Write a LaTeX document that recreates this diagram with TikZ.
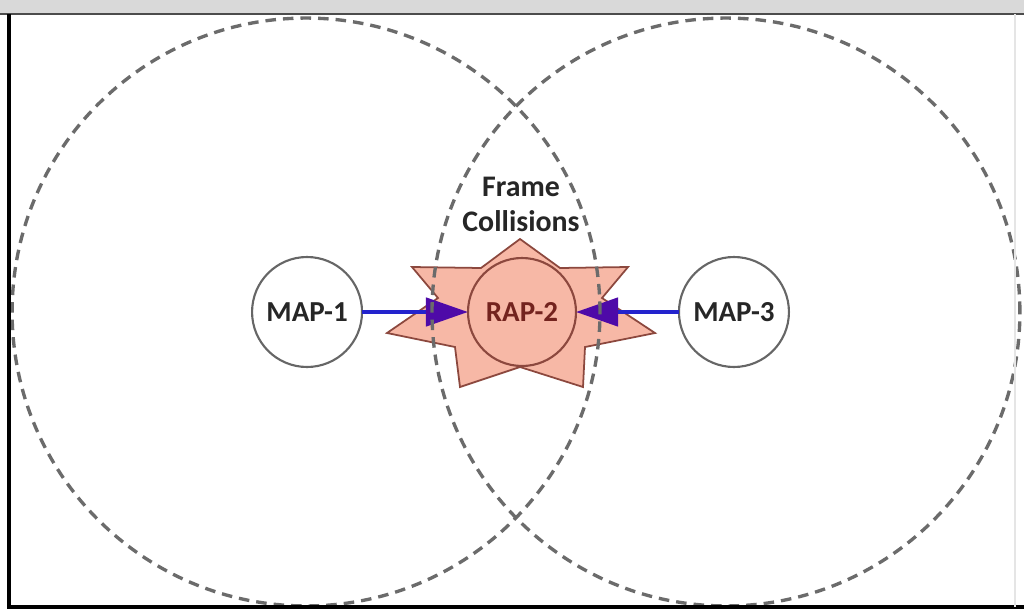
\documentclass[tikz,border=0pt]{standalone}
\usepackage{fontspec}
\setmainfont{Carlito}
\usetikzlibrary{arrows.meta,positioning}
\definecolor{starfill}{RGB}{247,184,166}
\definecolor{stardraw}{RGB}{140,72,62}
\definecolor{raptext}{RGB}{115,35,30}
\definecolor{linkblue}{RGB}{35,35,205}
\definecolor{tippurple}{RGB}{78,10,168}
\newcommand{\labelfont}{\bfseries\fontsize{16.5}{20}\selectfont}
\newcommand{\collisionstar}{
  \begin{scope}
    % The seven pointed burst behind RAP-2
    \draw[fill=starfill,draw=stardraw,line width=1pt]
      (520,371) -- (481,342) -- (412,343) -- (438,312) -- (387,277)
      -- (455,263) -- (460,223) -- (520,243) -- (583,223) -- (585,263)
      -- (655,277) -- (602,312) -- (628,343) -- (560,342) -- cycle;
  \end{scope}
}
\newcommand{\windowframe}{
  \begin{scope}
    % The window bar and edges
    \fill[black!15] (0,597) rectangle (1024,610);
    \draw[black!70,line width=1.5pt] (0,596) -- (1024,596);
    \draw[black,line width=1.8pt] (9,596) -- (9,3) -- (1024,3);
    \draw[black!10,line width=0.8pt] (1015,596) -- (1015,3);
  \end{scope}
}
\tikzset{
  station/.style={circle,draw=black!60,line width=1.2pt,fill=white,
    minimum size=2.2cm,inner sep=0pt,outer sep=0pt,text=black!85,font=\labelfont},
  zone/.style={draw=black!58,line width=1.9pt,dash pattern=on 6pt off 4pt},
  link/.style={linkblue,line width=2.6pt,
    -{Triangle[length=24pt,width=16pt,color=tippurple]}}
}

\begin{document}
\begin{tikzpicture}[x=0.02cm,y=0.02cm]
  \useasboundingbox (0,0) rectangle (1024,610);
  \fill[white] (0,0) rectangle (1024,610);

  \collisionstar

  \node[station,draw=stardraw,fill=starfill,text=raptext,minimum size=2.16cm] (rap2) at (522,298) {RAP-2};
  \node[station,left=2.12cm of rap2] (map1) {MAP-1};
  \node[station,right=2.06cm of rap2] (map3) {MAP-3};

  \draw[link] (map1) -- (rap2);
  \draw[link] (map3) -- (rap2);

  % coverage of each MAP
  \draw[zone] (map1.center) ++(-1,0) circle (5.88cm);
  \draw[zone] (map3.center) ++(-8,0) circle (5.88cm);

  \node[font=\bfseries\fontsize{17}{20}\selectfont,text=black!85,align=center] (hits) at (521,406) {Frame\\Collisions};

  \windowframe
\end{tikzpicture}
\end{document}
